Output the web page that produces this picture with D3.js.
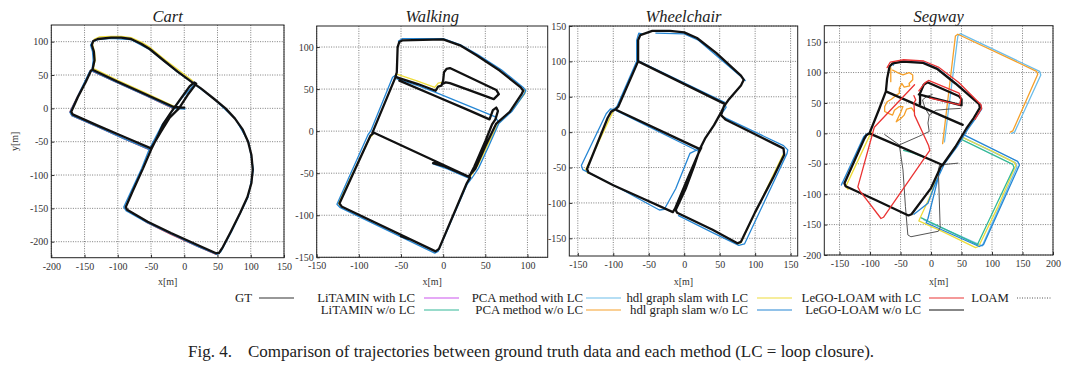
<!DOCTYPE html>
<html>
<head>
<meta charset="utf-8">
<script src="https://cdn.jsdelivr.net/npm/d3@7"></script>
<style>
  body { margin: 0; background: #fff; }
  svg { display: block; font-family: "Liberation Serif", "Times New Roman", serif; }
  .grid { stroke: #6f6f6f; stroke-width: 0.9; stroke-dasharray: 1,1.4; }
  .tick text { fill: #333; font-size: 10px; font-family: "Liberation Serif", serif; }
  .tick line { stroke: #333; }
</style>
</head>
<body>
<svg id="chart" width="1080" height="371"></svg>
<script>
// ---- tick labels ----
var cartXTicks = [-200, -150, -100, -50, 0, 50, 100, 150];
var cartYTicks = [-200, -150, -100, -50, 0, 50, 100];
var walkXTicks = [-150, -100, -50, 0, 50, 100];
var walkYTicks = [-150, -100, -50, 0, 50, 100];
var wcXTicks = [-150, -100, -50, 0, 50, 100, 150];
var wcYTicks = [-150, -100, -50, 0, 50, 100, 150];
var segXTicks = [-150, -100, -50, 0, 50, 100, 150, 200];
var segYTicks = [-200, -150, -100, -50, 0, 50, 100, 150];

// ---- legend ----
var methodNames = ["GT", "LiTAMIN with LC", "LiTAMIN w/o LC", "PCA method with LC", "PCA method w/o LC",
  "hdl graph slam with LC", "hdl graph slam w/o LC", "LeGO-LOAM with LC", "LeGO-LOAM w/o LC", "LOAM"];
var methodColors = ["#333333", "#cc55ee", "#33b898", "#6cbdea", "#f5a02a",
  "#eedc3a", "#2586d4", "#ea3434", "#111111", "#555555"];

// ---- trajectories [x, y] in metres, null = gap ----
var cartGT = [[0,1],[-16,2],[-60,22],[-100,40],[-138,58],[-135,72],[-136,85],[-139,95],[-137,101],[-130,104],
  [-110,106],[-95,106],[-80,104],[-65,97],[-52,89],[-30,71],[-10,55],[12,39],[25,30],[45,14],[62,0],[76,-15],
  [88,-32],[96,-50],[101,-70],[103,-92],[101,-112],[95,-133],[84,-157],[70,-185],[58,-208],[52,-217],[47,-217],
  [20,-205],[-20,-187],[-55,-170],[-86,-152],[-88,-148],[-78,-125],[-62,-90],[-50,-62],[-40,-42],[-32,-24],
  [-20,-6],[-5,15],[8,33],[15,39],[18,37],[5,20],[-8,0],[-22,-14],[-35,-35],[-50,-60],[-90,-43],[-130,-26],
  [-168,-9],[-170,-5],[-160,17],[-148,40],[-140,57]];
var cartBlue = [[1,-1],[-16,0],[-60,20],[-100,38],[-139,56],[-137,72],[-138,85],[-141,95],[-138,100],[-130,103],
  [-110,105],[-80,103],[-52,88],[-10,54],[13,38],[46,13],[77,-16],[97,-51],[104,-92],[96,-133],[71,-185],
  [55,-215],[49,-219],[20,-207],[-55,-172],[-87,-154],[-91,-148],[-64,-90],[-53,-62],[-33,-24],[-4,15],[17,38],
  null,[-52,-62],[-92,-45],[-130,-28],[-169,-11],[-172,-6],[-142,56]];
var cartYellow = [[-137,60],[-134,72],[-135,85],[-138,96],[-135,104],[-128,107],[-110,108],[-95,108],[-80,106],
  [-64,99],[-51,91],[-29,73],[13,41],null,[-137,60],[-100,42],[-60,24],[-16,3.5]];
var cartRed = [[-50,-63],[-90,-46],[-130,-28],[-169,-11],[-172,-5],[-161,17],[-149,40],[-141,57],[-100,38],
  [-60,20],[-17,0],null,[-89,-150],[-55,-172],[-20,-189],[20,-207],[48,-219]];

var walkGT = [[-10,-37],[32,-55],[28,-62],[-5,-140],[-9,-143],[-120,-90],[-123,-86],[-86,-5],[-82,-2],[30,-54],
  [38,-45],[50,-18],[63,9],[79,23],[93,44],[95,48],[92,52],[67,72],[40,90],[20,102],[0,109],[-48,108],[-52,106],
  [-54,100],[-55,70],[-57,63],[-84,-2],
  null,[-55,64],[-30,56],[-9,48],[-6,53],[-2,54],[0,60],[1,70],[4,74],[8,75],[63,49],[66,44],[60,38],[8,57],
  [3,58],[-1,56],
  null,[-52,60],[-10,42],[30,25],[55,14],[59,25],[63,28],[65,24],[62,14],[58,8],[50,-12],[37,-42],[31,-54],
  null,[-50,-125],[-42,-128],null,[-12,-38],[2,-42]];
var walkBlue = [[-12,-39],[5,-45],[33,-57],[28,-64],[-6,-143],[-10,-145],[-122,-91],[-126,-87],[-89,-4],
  [-86,0],[-60,64],[-57,66],[-54,64],
  null,[34,-56],[42,-44],[54,-18],[66,9],[82,24],[96,44],[98,48],[95,52],[69,73],[41,91],[20,103],[0,110],
  [-48,110],[-53,107],
  null,[-55,62],[-30,54],[-9,46],[62,17],[66,10]];
var walkYellow = [[-84,-5],[-87,-8],[-124,-85],[-122,-89],null,[33,-53],[41,-41],[53,-16],[66,10],[82,25],
  [97,45],[97,50],null,[-56,68],[-32,60],[-10,52],[-6,57],[-1,58]];

var wcGT = [[-62,137],[-45,143],[-20,143],[0,141],[18,133],[45,112],[80,80],[84,74],[80,66],[62,45],[57,38],
  [52,28],[42,10],[30,-8],[22,-24],[15,-45],[2,-80],[-12,-110],[-10,-114],[40,-138],[75,-157],[80,-155],
  [100,-113],[125,-65],[141,-32],[140,-23],[132,-19],[90,2],[58,18],[52,24],[56,37],
  null,[-62,137],[-65,130],[-65,100],[57,40],
  null,[-65,100],[-93,36],[-97,32],[22,-24],
  null,[-97,32],[-103,29],[-108,20],[-137,-52],[-135,-57],[-100,-75],[-60,-93],[-16,-113],[-13,-108],
  [5,-65],[20,-30],[24,-22]];
var wcBlue = [[-60,139],[-64,140],[-67,130],[-67,100],[-95,36],[-100,32],[-104,33],[-110,26],[-145,-47],
  [-143,-53],[-90,-80],[-35,-110],[-28,-109],[-12,-80],[8,-30],[20,-24],
  null,[-67,102],[57,42],[59,35],[52,25],[54,22],[140,-19],[146,-25],[145,-30],[85,-158],[77,-160],[40,-142],
  [-8,-118],
  null,[-95,30],[20,-27],null,[-40,140],[0,139],[20,130],[82,77],[86,73]];
var wcYellow = [[-100,30],[-139,-53],[-136,-58],null,[141,-28],[80,-156],[76,-158]];

var segGT = [[-68,110],[-63,115],[-46,118],[-14,116],[10,106],[40,82],[79,48],[80,42],[70,25],[58,8],[40,-22],
  [19,-52],
  null,[-68,110],[-72,90],[-74,69],[52,14],
  null,[-74,69],[-85,40],[-101,0],[19,-52],
  null,[-101,0],[-106,-3],[-110,-10],[-142,-82],[-140,-87],[-90,-110],[-37,-135],[-32,-133],[0,-90],[16,-55],
  [19,-52],
  null,[-18,48],[-18,66],[-12,80],[-6,84],[46,61],[50,56],[50,46],[-20,64]];
var segBlue = [[-62,112],[-60,116],[-44,119],[-12,117],[12,106],[42,81],[82,46],[83,40],[72,23],[60,6],[44,-20],
  [22,-50],[8,-80],[-5,-115],[-28,-133],
  null,[-145,-80],[-147,-85],[-110,-5],[-104,0],
  null,[55,-3],[142,-46],[145,-52],[86,-183],[79,-186],[-8,-147],[-5,-140],[15,-60]];
var segLightBlue = [[22,-14],[44,160],[48,164],[178,102],[180,96],[137,2],[132,0],null,
  [53,-7],[138,-48],[141,-55],[84,-185],[-12,-142]];
var segOrange = [[19,-17],[40,160],[44,163],[173,102],[175,97],[134,4],[130,2],
  null,[-63,104],[-55,100],[-46,96],[-36,100],[-30,96],[-30,88],[-36,82],[-35,78],[-44,76],[-48,82],[-52,74],
  [-52,66],[-58,62],[-65,56],[-72,52],[-76,44],[-76,36],[-68,32],[-63,30],[-60,38],[-52,44],[-46,44],[-50,34],
  [-57,19],[-50,24],[-44,30],[-40,40],[-32,42],[-28,36],null,[-66,85],[-66,108]];
var segYellow = [[50,-6],[100,-29],[137,-48],[139,-53],[110,-120],[78,-186],[73,-188],[20,-162],[-20,-144],
  [-17,-137],[0,-100],[13,-60],null,[-98,2],[-140,-88],[-136,-92]];
var segTeal = [[-45,-28],[-30,-32],[-10,-40],null,[48,-9],[134,-51],[136,-56],[76,-183],[-16,-139]];
var segRed = [[-72,108],[-67,117],[-45,121],[-12,119],[12,109],[45,84],[82,47],[83,41],[72,23],
  null,[-20,70],[-10,83],[-4,87],[46,66],[49,58],[47,47],[-2,58],
  null,[-27,80],[-60,45],[-93,10],[-120,-88],[-117,-94],[-82,-140],[-78,-138],[-2,-28],[-4,-20],[-27,30],
  [-28,50],[-25,55],[-28,62]];
var segGrey = [[-76,-2],[-52,-19],[-46,-60],[-42,-120],[-38,-167],[-33,-170],[12,-161],[15,-155],[12,-60],
  [14,-52],[44,-49],
  null,[-52,-19],[-20,-5],[-3,3],[-5,17],[-3,30],[8,38],[30,40],[48,41],
  null,[-3,30],[-10,42],[-14,55],[-8,60],[2,64]];

var svg = d3.select("#chart");

var panels = [
  {title: "Cart", box: [51.3, 25, 284, 257.7], xd: [-200, 150], yd: [-224, 125], xt: cartXTicks, yt: cartYTicks,
   ylab: true, series: [[cartYellow, 5], [cartRed, 7], [cartBlue, 6], [cartGT, 0]]},
  {title: "Walking", box: [316.7, 26, 547.7, 257.3], xd: [-150, 124], yd: [-150, 125], xt: walkXTicks, yt: walkYTicks,
   series: [[walkYellow, 5], [walkBlue, 6], [walkGT, 0]]},
  {title: "Wheelchair", box: [569.3, 26, 797.7, 256], xd: [-162, 160], yd: [-175, 150], xt: wcXTicks, yt: wcYTicks,
   series: [[wcYellow, 5], [wcBlue, 6], [wcGT, 0]]},
  {title: "Segway", box: [824.3, 25.7, 1053, 255], xd: [-175, 200], yd: [-200, 177], xt: segXTicks, yt: segYTicks,
   series: [[segLightBlue, 3], [segOrange, 4], [segYellow, 5], [segTeal, 2], [segBlue, 6], [segGrey, 9],
            [segGT, 0], [segRed, 7]]}
];

panels.forEach(function(p, i) {
  var l = p.box[0], t = p.box[1], r = p.box[2], b = p.box[3];
  var x = d3.scaleLinear().domain(p.xd).range([l, r]);
  var y = d3.scaleLinear().domain(p.yd).range([b, t]);
  var g = svg.append("g");

  g.append("clipPath").attr("id", "clip" + i)
    .append("rect").attr("x", l).attr("y", t).attr("width", r - l).attr("height", b - t);

  // dotted grid
  g.selectAll(".gx").data(p.xt).join("line").attr("class", "grid")
    .attr("x1", function(d) { return x(d); }).attr("x2", function(d) { return x(d); })
    .attr("y1", t).attr("y2", b);
  g.selectAll(".gy").data(p.yt).join("line").attr("class", "grid")
    .attr("x1", l).attr("x2", r)
    .attr("y1", function(d) { return y(d); }).attr("y2", function(d) { return y(d); });

  var fmt = function(d) { return String(d); };
  var xa = g.append("g").attr("transform", "translate(0," + b + ")")
    .call(d3.axisBottom(x).tickValues(p.xt).tickFormat(fmt).tickSize(-3).tickPadding(5));
  var ya = g.append("g").attr("transform", "translate(" + l + ",0)")
    .call(d3.axisLeft(y).tickValues(p.yt).tickFormat(fmt).tickSize(-3).tickPadding(3));
  xa.select(".domain").remove();
  ya.select(".domain").remove();

  var line = d3.line()
    .defined(function(d) { return d != null; })
    .x(function(d) { return x(d[0]); })
    .y(function(d) { return y(d[1]); });

  var plot = g.append("g").attr("clip-path", "url(#clip" + i + ")");
  p.series.forEach(function(s) {
    var k = s[1];
    plot.append("path")
      .attr("d", line(s[0]))
      .attr("fill", "none")
      .attr("stroke", k == 0 ? "#111" : methodColors[k])
      .attr("stroke-width", k == 0 ? 2.3 : (k == 9 ? 1 : 1.3))
      .attr("stroke-linejoin", "round")
      .attr("stroke-linecap", "round");
  });

  g.append("rect").attr("x", l).attr("y", t).attr("width", r - l).attr("height", b - t)
    .attr("fill", "none").attr("stroke", "#222").attr("stroke-width", 1);

  g.append("text").attr("x", (l + r) / 2).attr("y", 22)
    .attr("text-anchor", "middle").attr("font-style", "italic").attr("font-size", 16.5).attr("fill", "#222")
    .text(p.title);

  g.append("text").attr("x", (l + r) / 2).attr("y", 285)
    .attr("text-anchor", "middle").attr("font-size", 10).attr("fill", "#333")
    .text("x[m]");

  if (p.ylab) {
    g.append("text").attr("transform", "translate(18," + ((t + b) / 2) + ") rotate(-90)")
      .attr("text-anchor", "middle").attr("font-size", 10).attr("fill", "#333")
      .text("y[m]");
  }
});

// legend: two rows, label right-aligned before its sample line
var legTextEnd = [252, 415, 583, 748, 921, 1009];
var legLineX = [259, 424, 586, 757, 929, 1017];
var lg = svg.append("g").attr("font-size", 12.8).attr("fill", "#222");
methodNames.forEach(function(name, k) {
  var col = k == 0 ? 0 : (k == 9 ? 5 : Math.ceil(k / 2));
  var row = (k == 0 || k == 9) ? 0 : (k % 2 == 1 ? 0 : 1);
  var yy = 298 + row * 12;
  lg.append("text").attr("x", legTextEnd[col]).attr("y", yy + 4)
    .attr("text-anchor", "end").text(name);
  lg.append("line").attr("x1", legLineX[col]).attr("x2", legLineX[col] + 35)
    .attr("y1", yy).attr("y2", yy)
    .attr("stroke", methodColors[k]).attr("stroke-width", k == 9 ? 1 : 1.2)
    .attr("stroke-dasharray", k == 9 ? "1,1.5" : null);
});

// caption
svg.append("text").attr("x", 188).attr("y", 357).attr("font-size", 17).attr("fill", "#222")
  .text("Fig. 4.");
svg.append("text").attr("x", 248).attr("y", 357).attr("font-size", 17).attr("fill", "#222")
  .text("Comparison of trajectories between ground truth data and each method (LC = loop closure).");
</script>
</body>
</html>
